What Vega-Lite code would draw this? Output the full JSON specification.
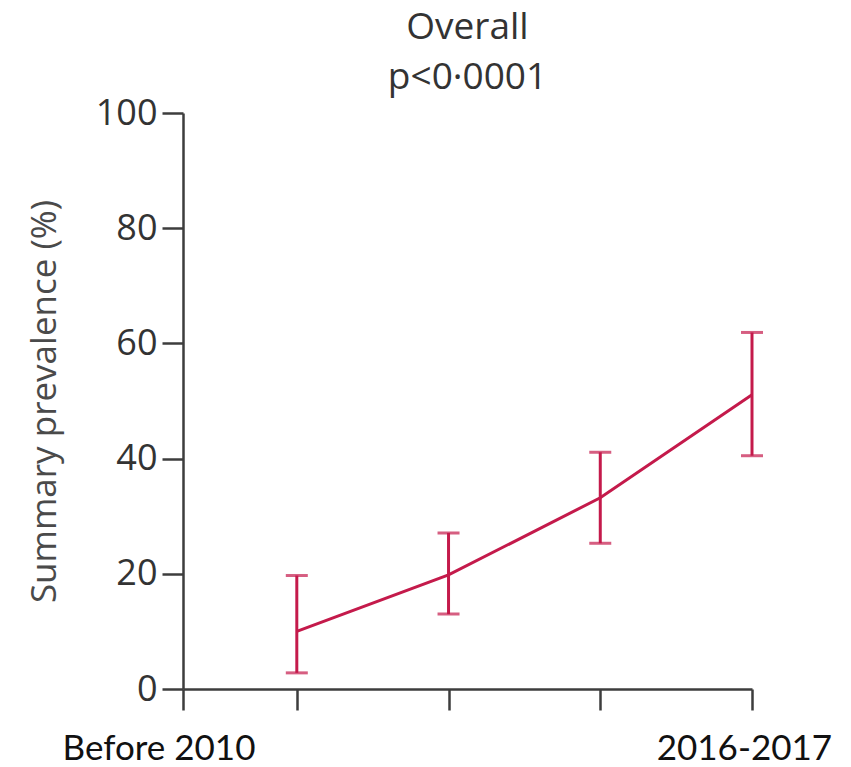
{
  "$schema": "https://vega.github.io/schema/vega-lite/v6.json",
  "width": 569,
  "height": 576,
  "autosize": "none",
  "padding": {"left": 183, "top": 113, "right": 99, "bottom": 78},
  "background": "white",
  "title": {
    "text": ["Overall", "p<0·0001"],
    "font": "Open Sans",
    "fontSize": 37,
    "fontWeight": "normal",
    "color": "#333333",
    "lineHeight": 50,
    "offset": -2,
    "anchor": "middle"
  },
  "config": {
    "view": {"stroke": null},
    "axis": {
      "domainColor": "#3d3d3d",
      "domainWidth": 2.5,
      "tickColor": "#3d3d3d",
      "tickWidth": 2.5,
      "tickSize": 21,
      "grid": false,
      "labelFont": "Open Sans",
      "labelFontSize": 36,
      "labelColor": "#333333",
      "titleFont": "Open Sans",
      "titleFontSize": 35,
      "titleFontWeight": "normal",
      "titleColor": "#4a4a4a"
    }
  },
  "data": {
    "values": [
      {"period": 1, "prevalence": 10.0, "lower": 2.8, "upper": 19.7},
      {"period": 2, "prevalence": 19.8, "lower": 13.0, "upper": 27.1},
      {"period": 3, "prevalence": 33.2, "lower": 25.3, "upper": 41.1},
      {"period": 4, "prevalence": 51.1, "lower": 40.5, "upper": 61.9}
    ]
  },
  "encoding": {
    "x": {
      "field": "period",
      "type": "quantitative",
      "scale": {"domain": [0.25, 4], "nice": false, "zero": false},
      "axis": {"values": [0.25, 1, 2, 3, 4], "labels": false, "title": null}
    }
  },
  "layer": [
    {
      "mark": {"type": "line", "color": "#c41a4b", "strokeWidth": 3},
      "encoding": {
        "y": {
          "field": "prevalence",
          "type": "quantitative",
          "scale": {"domain": [0, 100], "nice": false},
          "axis": {
            "values": [0, 20, 40, 60, 80, 100],
            "title": "Summary prevalence (%)",
            "titlePadding": 33,
            "labelPadding": 5
          }
        }
      }
    },
    {
      "mark": {"type": "rule", "color": "#c41a4b", "strokeWidth": 3},
      "encoding": {
        "y": {"field": "lower", "type": "quantitative"},
        "y2": {"field": "upper"}
      }
    },
    {
      "mark": {"type": "tick", "orient": "horizontal", "color": "#c41a4b", "size": 22, "thickness": 3},
      "encoding": {"y": {"field": "lower", "type": "quantitative"}}
    },
    {
      "mark": {"type": "tick", "orient": "horizontal", "color": "#c41a4b", "size": 22, "thickness": 3},
      "encoding": {"y": {"field": "upper", "type": "quantitative"}}
    },
    {
      "data": {
        "values": [
          {"pos": 0.092, "val": -10.4, "label": "Before 2010"},
          {"pos": 3.95, "val": -10.4, "label": "2016-2017"}
        ]
      },
      "mark": {"type": "text", "font": "Lato", "fontSize": 35, "color": "#111111", "baseline": "middle", "align": "center"},
      "encoding": {
        "x": {"field": "pos", "type": "quantitative"},
        "y": {"field": "val", "type": "quantitative"},
        "text": {"field": "label"}
      }
    }
  ]
}
